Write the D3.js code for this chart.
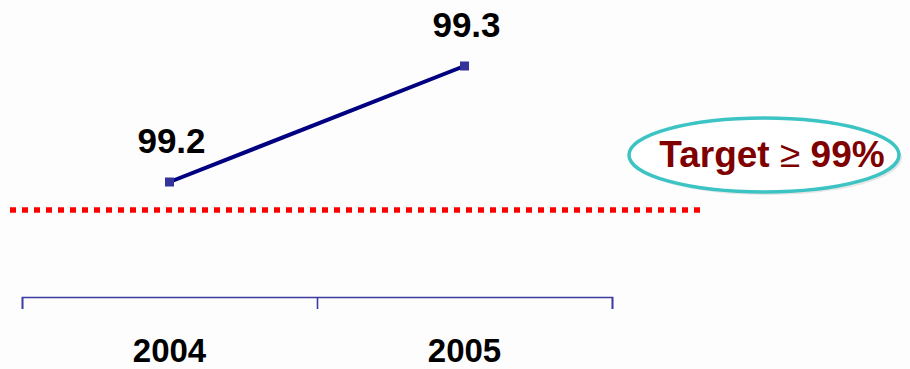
<!DOCTYPE html>
<html>
<head>
<meta charset="utf-8">
<script src="https://cdn.jsdelivr.net/npm/d3@7"></script>
<style>
  body { margin: 0; background: #fdfdfd; }
  svg { display: block; font-family: "Liberation Sans", Arial, sans-serif; }
</style>
</head>
<body>
<svg id="chart"></svg>
<script>
// chart values
const years = ['2004', '2005'];
const values = [99.2, 99.3];
const target = 99;
const targetLabel = ['Target ', '\u2265', ' 99%'];

const width = 910, height = 369;

const svg = d3.select('#chart')
    .attr('width', width)
    .attr('height', height);

// axis runs across category edges, labels sit in the middle of each band
const xEdge = d3.scaleLinear()
    .domain([0, years.length])
    .range([22, 612]);

const xCenter = i => xEdge(i + 0.5);

// not drawn to scale in the original: target line is just below the first point
const yScale = d3.scaleLinear()
    .domain([target, 99.2, 99.3])
    .range([210, 182, 66]);

// target dotted line
svg.append('line')
    .attr('x1', 10)
    .attr('x2', 702)
    .attr('y1', yScale(target))
    .attr('y2', yScale(target))
    .attr('stroke', '#ff0000')
    .attr('stroke-width', 5.5)
    .attr('stroke-dasharray', '6,6');

// bottom axis
const xAxis = d3.axisBottom(xEdge)
    .tickValues(d3.range(years.length + 1))
    .tickSize(12)
    .tickSizeOuter(12)
    .tickFormat('');

const axisG = svg.append('g')
    .attr('transform', 'translate(0,297)')
    .call(xAxis);

axisG.selectAll('path, line')
    .attr('stroke', '#3b3ba3')
    .attr('stroke-width', 1.6);

svg.selectAll('.year-label')
    .data(years)
    .join('text')
    .attr('class', 'year-label')
    .attr('x', (d, i) => xCenter(i))
    .attr('y', 362)
    .attr('text-anchor', 'middle')
    .attr('font-size', 33)
    .attr('font-weight', 'bold')
    .attr('fill', '#000')
    .text(d => d);

// data line
const line = d3.line()
    .x((d, i) => xCenter(i))
    .y(d => yScale(d));

svg.append('path')
    .datum(values)
    .attr('fill', 'none')
    .attr('stroke', '#000080')
    .attr('stroke-width', 4)
    .attr('d', line);

svg.selectAll('.marker')
    .data(values)
    .join('rect')
    .attr('class', 'marker')
    .attr('x', (d, i) => xCenter(i) - 4.5)
    .attr('y', d => yScale(d) - 4.5)
    .attr('width', 9)
    .attr('height', 9)
    .attr('fill', '#333399');

svg.selectAll('.value-label')
    .data(values)
    .join('text')
    .attr('class', 'value-label')
    .attr('x', (d, i) => xCenter(i) + 2)
    .attr('y', d => yScale(d) - 29)
    .attr('text-anchor', 'middle')
    .attr('font-size', 35)
    .attr('font-weight', 'bold')
    .attr('fill', '#000')
    .text(d => d.toFixed(1));

// target callout
const callout = svg.append('g')
    .attr('transform', 'translate(764,155)');

callout.append('ellipse')
    .attr('cx', 3)
    .attr('cy', 3)
    .attr('rx', 135)
    .attr('ry', 37)
    .attr('fill', '#e6e6e6');

callout.append('ellipse')
    .attr('rx', 135)
    .attr('ry', 37)
    .attr('fill', '#ffffff')
    .attr('stroke', '#3cc4c4')
    .attr('stroke-width', 3.5);

callout.append('text')
    .attr('x', 8)
    .attr('y', 12)
    .attr('text-anchor', 'middle')
    .attr('font-size', 37)
    .attr('font-weight', 'bold')
    .attr('fill', '#800000')
    .selectAll('tspan')
    .data(targetLabel)
    .join('tspan')
    .attr('font-weight', (d, i) => i === 1 ? 'normal' : 'bold')
    .text(d => d);
</script>
</body>
</html>
